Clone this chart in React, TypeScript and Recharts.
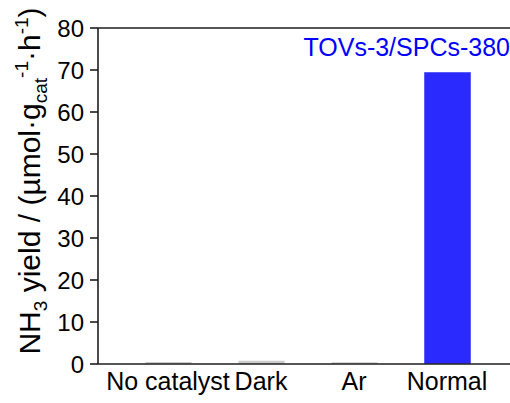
import { Bar, BarChart, Cell, Label, ReferenceLine, XAxis, YAxis } from "recharts";

const conditions = ["No catalyst", "Dark", "Ar", "Normal"];
const yields = [0.5, 0.8, 0.4, 69.4];
const yTicks = [0, 10, 20, 30, 40, 50, 60, 70, 80];
const sampleName = "TOVs-3/SPCs-380";

const data = conditions.map((name, i) => ({ name, value: yields[i] }));

const FONT = "'Liberation Sans', Arial, Helvetica, sans-serif";
const AXIS = "#1e1e1e";
const BLUE = "#2a2aff";
const GRAY = "#cbcbcb";

// rotated y label with sub/superscripts
const YLabel = () => {
  const x = 40;
  const y = 181;
  return (
    <text
      x={x}
      y={y}
      transform={`rotate(-90, ${x}, ${y})`}
      textAnchor="middle"
      fontFamily={FONT}
      fontSize={30}
      fill="#000"
    >
      <tspan>NH</tspan>
      <tspan fontSize={19} dy={7}>3</tspan>
      <tspan dy={-7}> yield / (µmol·g</tspan>
      <tspan fontSize={19} dy={7}>cat</tspan>
      <tspan fontSize={19} dy={-19}>-1</tspan>
      <tspan dy={12}>·h</tspan>
      <tspan fontSize={19} dy={-12}>-1</tspan>
      <tspan dy={12}>)</tspan>
    </text>
  );
};

const SampleTag = (props: any) => {
  const vb = props.viewBox || {};
  return (
    <text
      x={vb.x + vb.width - 7}
      y={vb.y + 28}
      textAnchor="end"
      fontFamily={FONT}
      fontSize={25}
      fill="#0000ff"
    >
      {sampleName}
    </text>
  );
};

export default function App() {
  return (
    <div
      style={{
        position: "absolute",
        left: 0,
        top: 0,
        width: 510,
        height: 403,
        overflow: "hidden",
        background: "#fff",
      }}
    >
      <BarChart
        width={530}
        height={403}
        data={data}
        margin={{ top: 28, right: 13, bottom: 0, left: 0 }}
        barSize={46}
      >
        <XAxis
          dataKey="name"
          height={39}
          padding={{ left: 23.5, right: 23.5 }}
          axisLine={{ stroke: AXIS, strokeWidth: 1.6 }}
          tickLine={false}
          tickSize={0}
          tickMargin={8}
          interval={0}
          tick={{ fill: "#000", fontSize: 25, fontFamily: FONT }}
        />
        <YAxis
          width={98}
          domain={[0, 80]}
          ticks={yTicks}
          interval={0}
          allowDataOverflow
          axisLine={{ stroke: AXIS, strokeWidth: 1.6 }}
          tickLine={{ stroke: AXIS, strokeWidth: 1.6 }}
          tickSize={8}
          tickMargin={6}
          tick={{ fill: "#000", fontSize: 24, fontFamily: FONT }}
        >
          <Label content={<YLabel />} />
        </YAxis>
        <ReferenceLine y={80} stroke={AXIS} strokeWidth={1.6}>
          <Label content={<SampleTag />} />
        </ReferenceLine>
        <Bar dataKey="value" isAnimationActive={false}>
          {data.map((d) => (
            <Cell
              key={d.name}
              fill={d.name === "Normal" ? BLUE : GRAY}
              stroke={d.name === "Normal" ? "#5c5cff" : "none"}
              strokeWidth={1}
            />
          ))}
        </Bar>
      </BarChart>
    </div>
  );
}
